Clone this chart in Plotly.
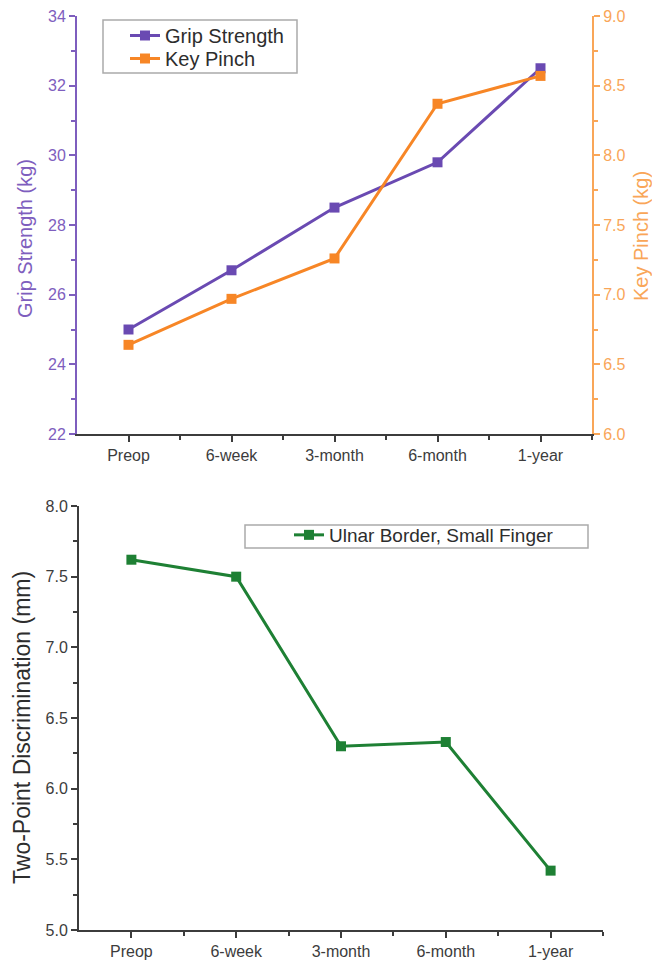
import plotly.graph_objects as go

categories = ["Preop", "6-week", "3-month", "6-month", "1-year"]
grip_strength = [25.0, 26.7, 28.5, 29.8, 32.5]
key_pinch = [6.64, 6.97, 7.26, 8.37, 8.57]
two_point = [7.62, 7.50, 6.30, 6.33, 5.42]

W, H = 652, 965
PURPLE = "rgb(106,74,178)"
PURPLE_AX = "rgb(126,94,190)"
ORANGE = "rgb(247,134,38)"
ORANGE_AX = "rgb(249,166,88)"
GREEN = "rgb(30,128,52)"
DARK = "rgb(60,60,60)"
LABEL = "rgb(60,60,60)"
LEG_TXT = "rgb(45,45,45)"
BOX = "rgb(170,170,170)"
FONT = "Liberation Sans, Arial, sans-serif"

xpos = list(range(len(categories)))

fig = go.Figure()
fig.add_trace(go.Scatter(x=xpos, y=grip_strength, name="Grip Strength", mode="lines+markers",
                         line=dict(color=PURPLE, width=3), marker=dict(symbol="square", size=10, color=PURPLE),
                         xaxis="x", yaxis="y", legend="legend"))
fig.add_trace(go.Scatter(x=xpos, y=key_pinch, name="Key Pinch", mode="lines+markers",
                         line=dict(color=ORANGE, width=3), marker=dict(symbol="square", size=10, color=ORANGE),
                         xaxis="x", yaxis="y2", legend="legend3"))
fig.add_trace(go.Scatter(x=xpos, y=two_point, name="Ulnar Border, Small Finger", mode="lines+markers",
                         line=dict(color=GREEN, width=3), marker=dict(symbol="square", size=10, color=GREEN),
                         xaxis="x2", yaxis="y3", legend="legend2"))

def yax(color, lab_color, rng, dtick, mdtick, fmt, **kw):
    d = dict(range=rng, tick0=rng[0], dtick=dtick, tickformat=fmt, automargin=False,
             showline=True, linecolor=color, linewidth=2, showgrid=False, zeroline=False,
             ticks="outside", ticklen=6, tickwidth=2, tickcolor=color,
             tickfont=dict(family=FONT, size=16, color=lab_color),
             minor=dict(dtick=mdtick, tick0=rng[0], ticks="outside", ticklen=4, tickwidth=1.5, tickcolor=color))
    d.update(kw)
    return d

def xax(domain, anchor):
    return dict(domain=domain, anchor=anchor, range=[-0.5, 4.5], tickmode="array", tickvals=xpos,
                ticktext=categories, automargin=False, showline=True, linecolor=DARK, linewidth=2,
                showgrid=False, zeroline=False, ticks="outside", ticklen=6, tickwidth=2, tickcolor=DARK,
                tickfont=dict(family=FONT, size=16, color=LABEL),
                minor=dict(tickmode="array", tickvals=[0.5, 1.5, 2.5, 3.5, 4.5], ticks="outside",
                           ticklen=4, tickwidth=1.5, tickcolor=DARK))

def leg(x_px, top_px, size):
    return dict(x=x_px / W, y=1 - top_px / H, xanchor="left", yanchor="top", bgcolor="rgba(0,0,0,0)",
                borderwidth=0, font=dict(family=FONT, size=size, color=LEG_TXT))

top_dom = [1 - 434 / H, 1 - 16 / H]
bot_dom = [1 - 930 / H, 1 - 506 / H]

fig.update_layout(
    template="none",
    width=W, height=H, margin=dict(l=0, r=0, t=0, b=0, pad=0, autoexpand=False),
    paper_bgcolor="white", plot_bgcolor="white",
    font=dict(family=FONT, color=DARK),
    xaxis=xax([77 / W, 592 / W], "y"),
    xaxis2=xax([79 / W, 603 / W], "y3"),
    yaxis=yax(PURPLE_AX, PURPLE_AX, [22, 34], 2, 1, "d", domain=top_dom, anchor="x"),
    yaxis2=yax(ORANGE_AX, ORANGE_AX, [6, 9], 0.5, 0.25, ".1f", overlaying="y", side="right", anchor="x"),
    yaxis3=yax(DARK, LABEL, [5, 8], 0.5, 0.25, ".1f", domain=bot_dom, anchor="x2"),
    legend=leg(125, 16, 20),
    legend3=leg(125, 39, 20),
    legend2=leg(289, 516, 19),
    showlegend=True,
    shapes=[
        dict(type="rect", xref="paper", yref="paper", x0=103 / W, x1=297 / W, y0=1 - 73 / H, y1=1 - 20 / H,
             line=dict(color=BOX, width=1.5), fillcolor="rgba(0,0,0,0)", layer="below"),
        dict(type="rect", xref="paper", yref="paper", x0=245 / W, x1=588 / W, y0=1 - 548 / H, y1=1 - 525 / H,
             line=dict(color=BOX, width=1.5), fillcolor="rgba(0,0,0,0)", layer="below"),
    ],
    annotations=[
        dict(text="Grip Strength (kg)", x=25 / W, y=1 - 239 / H, xref="paper", yref="paper",
             xanchor="center", yanchor="middle",
             textangle=-90, showarrow=False, font=dict(family=FONT, size=20, color=PURPLE_AX)),
        dict(text="Key Pinch (kg)", x=641 / W, y=1 - 236 / H, xref="paper", yref="paper",
             xanchor="center", yanchor="middle",
             textangle=-90, showarrow=False, font=dict(family=FONT, size=20, color=ORANGE_AX)),
        dict(text="Two-Point Discrimination (mm)", x=22 / W, y=1 - 728 / H, xref="paper", yref="paper",
             xanchor="center", yanchor="middle",
             textangle=-90, showarrow=False, font=dict(family=FONT, size=23, color=LEG_TXT)),
    ],
)

fig.write_html("out.html", config=dict(displayModeBar=False),
               post_script="document.body.style.margin='0';")
